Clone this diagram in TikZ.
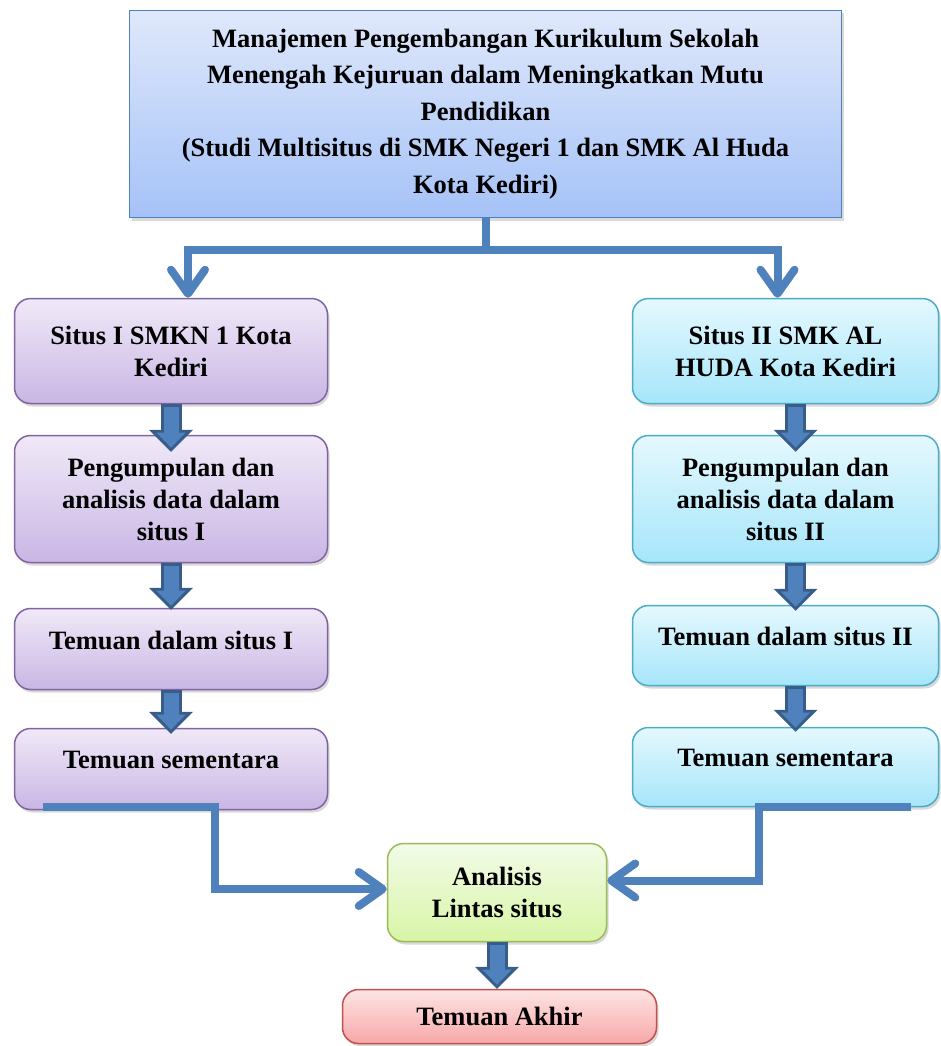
\documentclass[tikz,border=0pt]{standalone}
\usepackage{xcolor}
\usepackage{fontspec}
\setmainfont{Liberation Serif}
\usepackage{tikz}
\usetikzlibrary{positioning, arrows.meta, shadows}
\definecolor{titletop}{HTML}{DFE8FB}
\definecolor{titlebot}{HTML}{A5C2F7}
\definecolor{titleline}{HTML}{4F81BD}
\definecolor{purptop}{HTML}{F0E9F8}
\definecolor{purpbot}{HTML}{C9B6E4}
\definecolor{purpline}{HTML}{8064A2}
\definecolor{cyantop}{HTML}{E5F8FE}
\definecolor{cyanbot}{HTML}{A6E6FA}
\definecolor{cyanline}{HTML}{4BACC6}
\definecolor{greentop}{HTML}{F2FBE8}
\definecolor{greenbot}{HTML}{D8F5A6}
\definecolor{greenline}{HTML}{9BBB59}
\definecolor{redtop}{HTML}{FDE4E4}
\definecolor{redbot}{HTML}{F8A8A8}
\definecolor{redline}{HTML}{C0504D}
\definecolor{arrblue}{HTML}{4F81BD}
\definecolor{arrdark}{HTML}{385D8A}

\tikzset{
  box/.style={draw, line width=1.5pt, rounded corners=16pt, align=center, inner sep=6pt,
    font=\fontsize{26.5pt}{32pt}\selectfont\bfseries,
    drop shadow={shadow xshift=2pt, shadow yshift=-3pt, opacity=0.3}},
  titlebox/.style={box, sharp corners, draw=titleline, top color=titletop, bottom color=titlebot,
    font=\fontsize{26.5pt}{36.5pt}\selectfont\bfseries, minimum width=712pt, minimum height=207pt},
  purplebox/.style={box, draw=purpline, top color=purptop, bottom color=purpbot, minimum width=313pt},
  cyanbox/.style={box, draw=cyanline, top color=cyantop, bottom color=cyanbot, minimum width=306pt},
  greenbox/.style={box, draw=greenline, top color=greentop, bottom color=greenbot},
  redbox/.style={box, draw=redline, top color=redtop, bottom color=redbot},
  uptext/.style={text depth=18pt},
  link/.style={draw=arrblue, line width=8pt, -{Straight Barb[length=24pt,width=34pt,round]}},
  blockout/.style={draw=arrdark, line width=21pt, -{Triangle[length=22pt,width=44pt,line width=0pt]}},
  blockin/.style={draw=arrblue, line width=15pt, shorten <=3pt,
    -{Triangle[length=14.8pt,width=29.5pt,line width=0pt]}}
}

\begin{document}
\begin{tikzpicture}[x=1pt, y=-1pt]
  \useasboundingbox (0,0) rectangle (940,1046);

  \node[titlebox] (title) at (485.5,114) {Manajemen Pengembangan Kurikulum Sekolah\\
    Menengah Kejuruan dalam Meningkatkan Mutu\\
    Pendidikan\\
    (Studi Multisitus di SMK Negeri 1 dan SMK Al Huda\\
    Kota Kediri)};

  % situs I
  \node[purplebox, minimum height=105pt] (l1) at (171,351) {Situs I SMKN 1 Kota\\Kediri};
  \node[purplebox, minimum height=127pt] (l2) at (171,499) {Pengumpulan dan\\analisis data dalam\\situs I};
  \node[purplebox, uptext, minimum height=81pt] (l3) at (171,649) {Temuan dalam situs I};
  \node[purplebox, uptext, minimum height=81pt] (l4) at (171,769) {Temuan sementara};

  % situs II
  \node[cyanbox, minimum height=105pt] (r1) at (785.5,351) {Situs II SMK AL\\HUDA Kota Kediri};
  \node[cyanbox, minimum height=127pt] (r2) at (785.5,499) {Pengumpulan dan\\analisis data dalam\\situs II};
  \node[cyanbox, uptext, minimum height=80pt] (r3) at (785.5,645.5) {Temuan dalam situs II};
  \node[cyanbox, uptext, minimum height=79pt] (r4) at (785.5,767) {Temuan sementara};

  \node[greenbox, minimum width=219pt, minimum height=98pt] (ana) at (497,892.5) {Analisis\\Lintas situs};
  \node[redbox, minimum width=314pt, minimum height=54pt] (akhir) at (499.5,1016.5) {Temuan Akhir};

  % connectors
  \draw[link] (title.south) -- ++(0,32) -| ([xshift=17pt]l1.north);
  \draw[link] (title.south) -- ++(0,32) -| ([xshift=-8pt]r1.north);
  \draw[link] ([xshift=29pt,yshift=3pt]l4.south west) -- ++(172,0) |- ([yshift=3.5pt]ana.west);
  \draw[link] ([xshift=-28pt]r4.south east) -- ++(-152,0) |- ([yshift=12pt]ana.east);

  \foreach \from/\to/\dx/\tip in {l1/l2/0pt/-17pt, l2/l3/0pt/-2pt, l3/l4/0pt/-6pt,
      r1/r2/10pt/-17pt, r2/r3/10pt/-6pt, r3/r4/10pt/-5pt, ana/akhir/0pt/0pt}{
    \pgfmathsetlengthmacro\intip{\tip+4.24pt}
    \draw[blockout, shorten >=\tip] ([xshift=\dx]\from.south) -- ([xshift=\dx]\from.south |- \to.north);
    \draw[blockin, shorten >=\intip] ([xshift=\dx]\from.south) -- ([xshift=\dx]\from.south |- \to.north);
  }
\end{tikzpicture}
\end{document}
